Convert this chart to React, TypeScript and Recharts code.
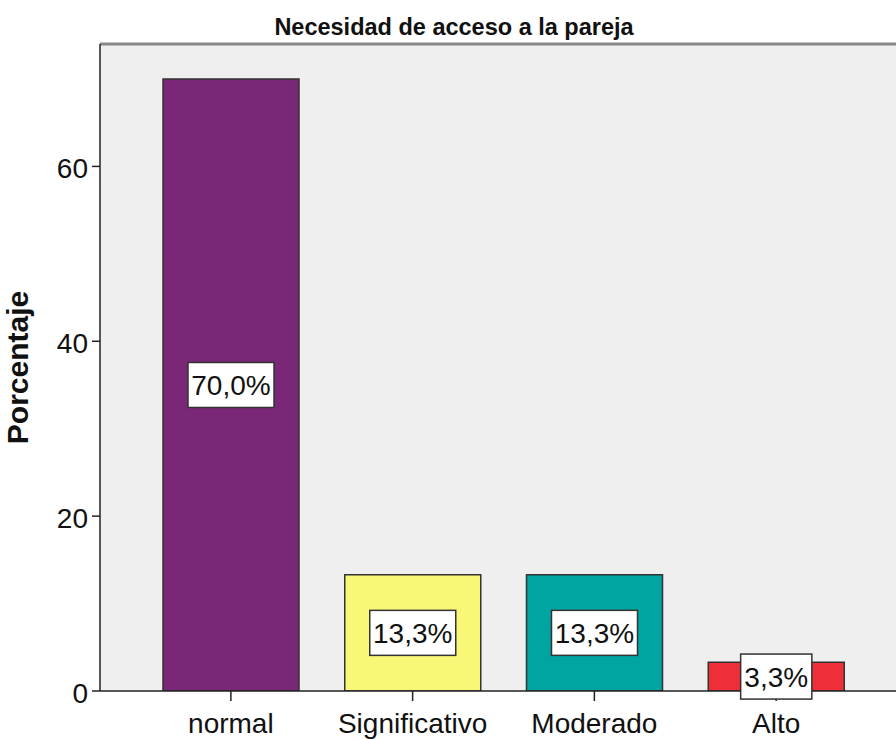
import React from "react";
import {
  BarChart,
  Bar,
  XAxis,
  YAxis,
  Cell,
  LabelList,
  ReferenceLine,
  CartesianGrid,
} from "recharts";

const categories = ["normal", "Significativo", "Moderado", "Alto"];
const percentages = [70.0, 13.3, 13.3, 3.3];
const yTicks = [0, 20, 40, 60];
const barColors = ["#7b2777", "#f8f777", "#00a5a2", "#ee2e38"];

const data = categories.map((name, i) => ({ name, value: percentages[i] }));

const FONT = "'Liberation Sans', Arial, sans-serif";

function BoxLabel(props: any) {
  const { x, y, width, height, value } = props;
  const text = `${Number(value).toFixed(1).replace(".", ",")}%`;
  const cx = x + width / 2;
  const cy = y + height / 2;
  const w = text.length * 14.8 + 12;
  const h = 45;
  return (
    <g>
      <rect x={cx - w / 2} y={cy - h / 2} width={w} height={h} fill="#fff" stroke="#333" strokeWidth={1.5} />
      <text x={cx} y={cy + 10} textAnchor="middle" fontFamily={FONT} fontSize={28} fill="#111">
        {text}
      </text>
    </g>
  );
}

export default function App() {
  return (
    <div style={{ position: "absolute", left: 0, top: 0, width: 896, height: 739, overflow: "hidden", background: "#fff" }}>
      <div
        style={{
          position: "absolute",
          left: 0,
          width: 908,
          top: 14,
          textAlign: "center",
          fontFamily: FONT,
          fontWeight: "bold",
          fontSize: 23.5,
          color: "#111",
        }}
      >
        Necesidad de acceso a la pareja
      </div>
      <BarChart
        width={907}
        height={739}
        data={data}
        margin={{ top: 44, right: 0, bottom: 0, left: 0 }}
        barSize={136}
      >
        <CartesianGrid horizontal={false} vertical={false} fill="#efefef" fillOpacity={1} />
        <ReferenceLine y={74} stroke="#888" strokeWidth={3} />
        <XAxis
          dataKey="name"
          height={48}
          padding={{ left: 40, right: 40 }}
          axisLine={{ stroke: "#222", strokeWidth: 1.5 }}
          tickLine={{ stroke: "#222", strokeWidth: 1.5 }}
          tickSize={10}
          interval={0}
          tick={{ fontFamily: FONT, fontSize: 28, fill: "#111", dy: 10 }}
        />
        <YAxis
          width={100}
          domain={[0, 74]}
          ticks={yTicks}
          allowDataOverflow
          axisLine={{ stroke: "#222", strokeWidth: 1.5 }}
          tickLine={{ stroke: "#222", strokeWidth: 1.5 }}
          tickSize={8}
          tick={{ fontFamily: FONT, fontSize: 28, fill: "#111", dx: -2, dy: 2 }}
          label={{
            value: "Porcentaje",
            angle: -90,
            position: "insideLeft",
            dx: 12,
            style: { fontFamily: FONT, fontSize: 30, fontWeight: "bold", fill: "#111", textAnchor: "middle" },
          }}
        />
        <Bar dataKey="value" stroke="#333" strokeWidth={1.5} isAnimationActive={false}>
          {data.map((_, i) => (
            <Cell key={i} fill={barColors[i]} />
          ))}
          <LabelList dataKey="value" content={<BoxLabel />} />
        </Bar>
      </BarChart>
    </div>
  );
}
